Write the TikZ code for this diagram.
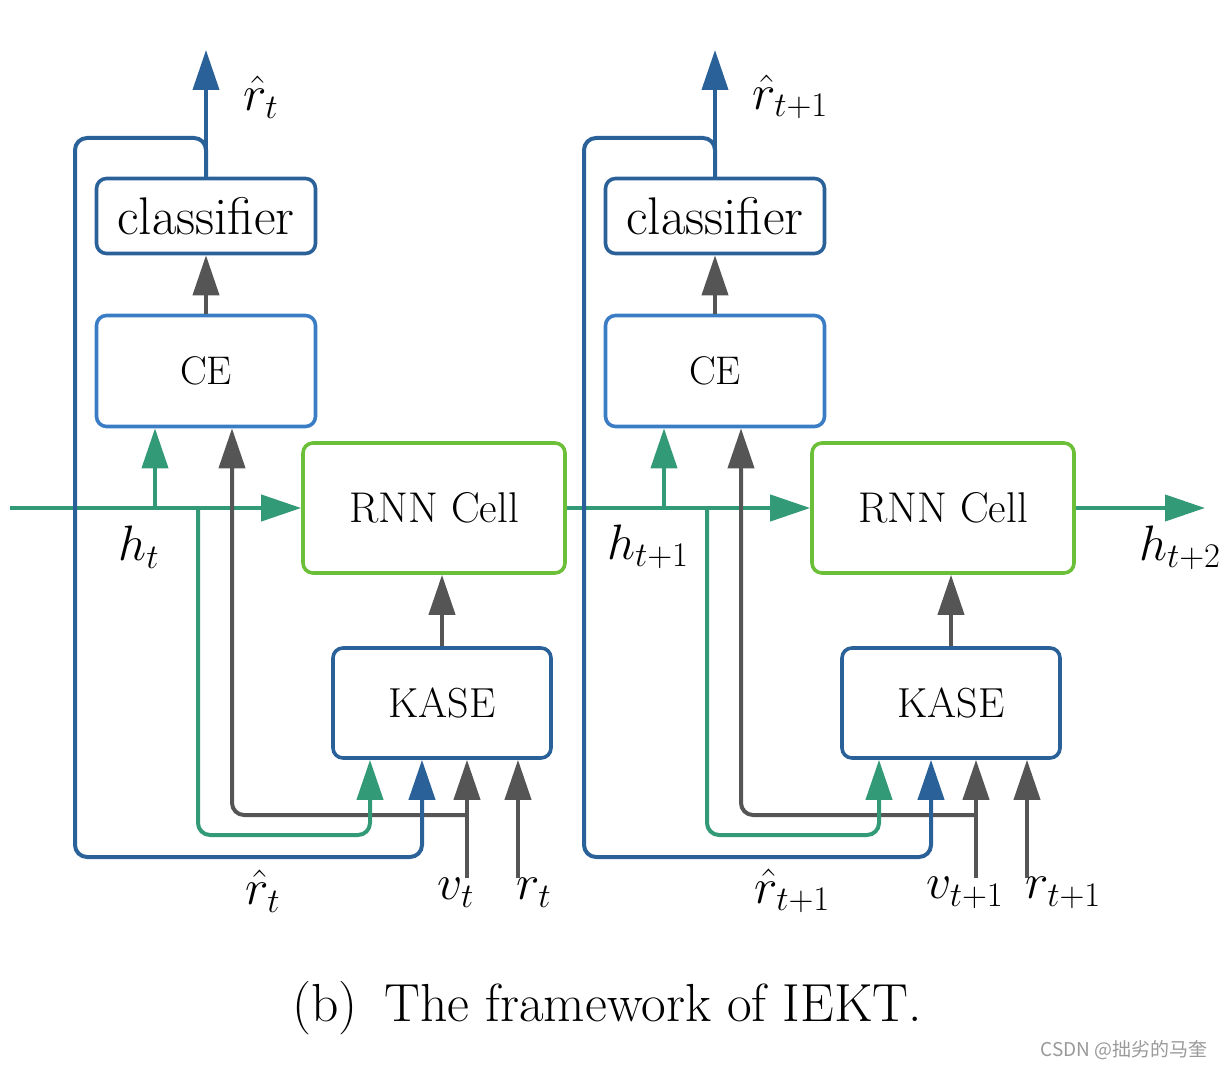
\documentclass[tikz,border=0pt]{standalone}
\usepackage{amsmath}
\usepackage{fontspec}
\newfontfamily\cjk{Noto Sans CJK SC}
\usetikzlibrary{positioning,arrows.meta}
\definecolor{kblue}{RGB}{42,97,153}
\definecolor{ceblue}{RGB}{58,125,196}
\definecolor{rnngreen}{RGB}{108,191,56}
\definecolor{hteal}{RGB}{51,154,119}
\definecolor{kgray}{RGB}{85,85,85}

\begin{document}
\begin{tikzpicture}[x=0.5pt,y=-0.5pt,
	box/.style={draw,line width=1.8pt,rounded corners=5pt,inner sep=0pt,font=\fontsize{21}{25}\selectfont},
	tip/.style={-{Triangle[length=20pt,width=13pt]}},
	wire/.style={line width=2pt,rounded corners=6pt},
	lab/.style={inner sep=0pt,font=\fontsize{23.5}{28}\selectfont}]
	\useasboundingbox (0,0) rectangle (1225,1068);
	\coordinate (rnn0) at (10,508);
	\foreach \k/\p/\a/\b/\dx in {1/0/t/t+1/0, 2/1/t+1/t+2/509} {
		\begin{scope}[shift={(\dx,0)}]
		\node[box,draw=kblue,minimum width=109.5pt,minimum height=37.5pt,font=\fontsize{26.5}{30}\selectfont] (cls\k) at (206,216) {classifier};
		\node[box,draw=ceblue,minimum width=109.5pt,minimum height=55.5pt,font=\fontsize{20}{24}\selectfont] (ce\k) at (206,371) {CE};
		\node[box,draw=rnngreen,minimum width=131pt,minimum height=65pt,font=\fontsize{21.5}{25}\selectfont] (rnn\k) at (434,508) {RNN Cell};
		\node[box,draw=kblue,minimum width=109pt,minimum height=55pt] (kase\k) at (442,703) {KASE};
		\coordinate (out\k) at (206,50);
		\coordinate (pu\k) at (155,508);
		\coordinate (pg\k) at (198,508);
		\coordinate (qg\k) at (370,835);
		\coordinate (pb\k) at (422,857);
		\coordinate (v\k) at (467,878);
		\coordinate (j\k) at (467,815);
		\coordinate (gx\k) at (232,815);
		\coordinate (r\k) at (518,878);
		% hidden state
		\draw[wire,tip,hteal] (rnn\p.east) -- (rnn\k.west);
		\draw[wire,tip,kgray] (ce\k) -- (cls\k);
		\draw[wire,tip,kgray] (kase\k.north) -- (kase\k.north |- rnn\k.south);
		\draw[wire,tip,kgray] (v\k) -- (v\k |- kase\k.south);
		\draw[wire,tip,kgray] (r\k) -- (r\k |- kase\k.south);
		\draw[wire,tip,kgray] (j\k) -- (gx\k) -- (gx\k |- ce\k.south);
		\draw[wire,tip,hteal] (pu\k) -- (pu\k |- ce\k.south);
		\draw[wire,tip,hteal] (pg\k) |- (qg\k) -- (qg\k |- kase\k.south);
		\draw[wire,tip,kblue] (cls\k.north) -- (out\k);
		\draw[wire,tip,kblue] (cls\k.north) |- (75,138) |- (pb\k) -- (pb\k |- kase\k.south);
		\node[lab,anchor=west] (rt\k) at (243,97) {$\hat{r}_{\a}$};
		\node[lab] (h\k) at (139,547) {$h_{\a}$};
		\node[lab,anchor=west] (rb\k) at (245,891) {$\hat{r}_{\a}$};
		\node[lab] (vl\k) at (456,893) {$v_{\a}$};
		\node[lab,anchor=west] (rl\k) at (516,893) {$r_{\a}$};
		\end{scope}
	}
	\coordinate (hout) at (1205,508);
	\draw[wire,tip,hteal] (rnn2.east) -- (hout);
	\node[lab] (h3) at (1180,548) {$h_{t+2}$};
	\node[inner sep=0pt,font=\fontsize{26.8}{31}\selectfont] (cap) at (607,1008) {(b)\enskip The framework of IEKT.};
	\node[inner sep=0pt,text=black!40,font=\cjk\fontsize{9.5}{11}\selectfont] (wm) at (1124,1050) {CSDN @拙劣的马奎};
\end{tikzpicture}
\end{document}
